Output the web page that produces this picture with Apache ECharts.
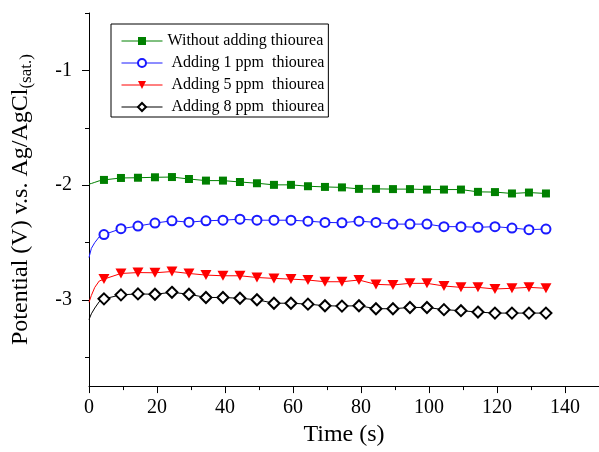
<!DOCTYPE html>
<html>
<head>
<meta charset="utf-8">
<script src="https://cdn.jsdelivr.net/npm/echarts@6/dist/echarts.min.js"></script>
<style>
  html, body { margin: 0; padding: 0; background: #fff; }
  #chart { width: 599px; height: 452px; }
</style>
</head>
<body>
<div id="chart"></div>
<script>
// series names as in the legend
const seriesNames = ['Without adding thiourea', 'Adding 1 ppm  thiourea', 'Adding 5 ppm  thiourea', 'Adding 8 ppm  thiourea'];

// times (s) of the plotted markers
const markerTime = [4.4, 9.4, 14.4, 19.4, 24.4, 29.4, 34.4, 39.4, 44.4, 49.4, 54.4, 59.4, 64.4, 69.4,
  74.4, 79.4, 84.4, 89.4, 94.4, 99.4, 104.4, 109.4, 114.4, 119.4, 124.4, 129.4, 134.4];

// potentials (V) at the markers
const noThiourea = [-1.954, -1.937, -1.935, -1.931, -1.929, -1.946, -1.960, -1.960, -1.972, -1.983,
  -1.997, -1.997, -2.009, -2.015, -2.019, -2.032, -2.032, -2.034, -2.034, -2.038,
  -2.038, -2.038, -2.058, -2.060, -2.072, -2.064, -2.072];
const ppm1 = [-2.430, -2.379, -2.356, -2.330, -2.310, -2.322, -2.310, -2.305, -2.296, -2.305,
  -2.305, -2.305, -2.313, -2.324, -2.327, -2.313, -2.324, -2.339, -2.339, -2.339,
  -2.361, -2.361, -2.367, -2.361, -2.373, -2.387, -2.382];
const ppm5 = [-2.818, -2.769, -2.761, -2.763, -2.752, -2.769, -2.783, -2.789, -2.789, -2.804,
  -2.812, -2.818, -2.826, -2.841, -2.841, -2.826, -2.864, -2.869, -2.855, -2.855,
  -2.878, -2.890, -2.890, -2.904, -2.898, -2.890, -2.898];
const ppm8 = [-2.990, -2.955, -2.947, -2.950, -2.933, -2.950, -2.978, -2.978, -2.985, -2.998,
  -3.028, -3.028, -3.036, -3.050, -3.053, -3.050, -3.076, -3.076, -3.065, -3.065,
  -3.084, -3.093, -3.105, -3.114, -3.114, -3.114, -3.114];

// first seconds of each curve (no markers)
const startTime = [0, 0.7, 1.7, 3.0];
const noThioureaStart = [-1.99, -1.985, -1.975, -1.962];
const ppm1Start = [-2.63, -2.55, -2.50, -2.45];
const ppm5Start = [-3.02, -2.96, -2.89, -2.835];
const ppm8Start = [-3.17, -3.12, -3.07, -3.015];

// axis ticks
const xMajor = [0, 20, 40, 60, 80, 100, 120, 140];
const xMinor = [10, 30, 50, 70, 90, 110, 130, 150];
const yMajor = [-3, -2, -1];
const yMinor = [-3.5, -2.5, -1.5, -0.5];

const FONT = 'Liberation Serif';

const buildData = (start, values) => {
  const pts = start.map((v, i) => ({ value: [startTime[i], v], symbol: 'none' }));
  return pts.concat(values.map((v, i) => [markerTime[i], v]));
};

const chart = echarts.init(document.getElementById('chart'), null, { renderer: 'canvas' });

const option = {
  animation: false,
  backgroundColor: '#fff',
  grid: { left: 89, right: 0, top: 13, bottom: 61, containLabel: false },
  legend: {
    orient: 'vertical',
    left: 111,
    top: 24,
    padding: [8, 4, 1, 10],
    itemWidth: 41,
    itemHeight: 10,
    itemGap: 4,
    borderColor: '#000',
    borderWidth: 1,
    lineStyle: { width: 1 },
    formatter: (name) => name === seriesNames[0] ? name : ' ' + name,
    textStyle: { fontFamily: FONT, fontSize: 16, color: '#000', lineHeight: 18 },
    data: seriesNames
  },
  xAxis: [{
    type: 'value',
    min: 0,
    max: 150,
    name: 'Time (s)',
    nameLocation: 'middle',
    nameGap: 36,
    nameTextStyle: { fontFamily: FONT, fontSize: 24, color: '#000' },
    axisLine: { show: true, lineStyle: { color: '#000', width: 1 } },
    axisTick: { show: true, inside: false, length: 7, customValues: xMajor, lineStyle: { color: '#000' } },
    axisLabel: { customValues: xMajor, margin: 12, fontFamily: FONT, fontSize: 20, color: '#000' },
    splitLine: { show: false }
  }, {
    type: 'value',
    min: 0,
    max: 150,
    position: 'bottom',
    axisLine: { show: false },
    axisTick: { show: true, inside: false, length: 4, customValues: xMinor, lineStyle: { color: '#000' } },
    axisLabel: { show: false },
    splitLine: { show: false }
  }],
  yAxis: [{
    type: 'value',
    min: -3.75,
    max: -0.5,
    name: '{m|Potential (V) v.s. Ag/AgCl}{s|(sat.)}',
    nameLocation: 'middle',
    nameGap: 54,
    nameTextStyle: {
      fontFamily: FONT,
      color: '#000',
      rich: {
        m: { fontFamily: FONT, fontSize: 24, lineHeight: 28, color: '#000' },
        s: { fontFamily: FONT, fontSize: 17, lineHeight: 20, verticalAlign: 'bottom', color: '#000' }
      }
    },
    axisLine: { show: true, lineStyle: { color: '#000', width: 1 } },
    axisTick: { show: true, inside: false, length: 7, customValues: yMajor, lineStyle: { color: '#000' } },
    axisLabel: { customValues: yMajor, margin: 17, fontFamily: FONT, fontSize: 20, color: '#000' },
    splitLine: { show: false }
  }, {
    type: 'value',
    min: -3.75,
    max: -0.5,
    position: 'left',
    axisLine: { show: false },
    axisTick: { show: true, inside: false, length: 4, customValues: yMinor, lineStyle: { color: '#000' } },
    axisLabel: { show: false },
    splitLine: { show: false }
  }],
  series: [
    {
      name: seriesNames[0], type: 'line',
      data: buildData(noThioureaStart, noThiourea),
      symbol: 'rect', symbolSize: 8,
      lineStyle: { color: '#008000', width: 1 },
      itemStyle: { color: '#008000' }
    },
    {
      name: seriesNames[1], type: 'line',
      data: buildData(ppm1Start, ppm1),
      symbol: 'emptyCircle', symbolSize: 9,
      lineStyle: { color: '#1a1aff', width: 1 },
      itemStyle: { color: '#1a1aff', borderWidth: 1.1 }
    },
    {
      name: seriesNames[2], type: 'line',
      data: buildData(ppm5Start, ppm5),
      symbol: 'triangle', symbolRotate: 180, symbolSize: [11, 10],
      lineStyle: { color: '#ff0000', width: 1 },
      itemStyle: { color: '#ff0000' }
    },
    {
      name: seriesNames[3], type: 'line',
      data: buildData(ppm8Start, ppm8),
      symbol: 'emptyDiamond', symbolSize: 11,
      lineStyle: { color: '#000', width: 1 },
      itemStyle: { color: '#000', borderWidth: 1 }
    }
  ]
};

chart.setOption(option);
</script>
</body>
</html>
